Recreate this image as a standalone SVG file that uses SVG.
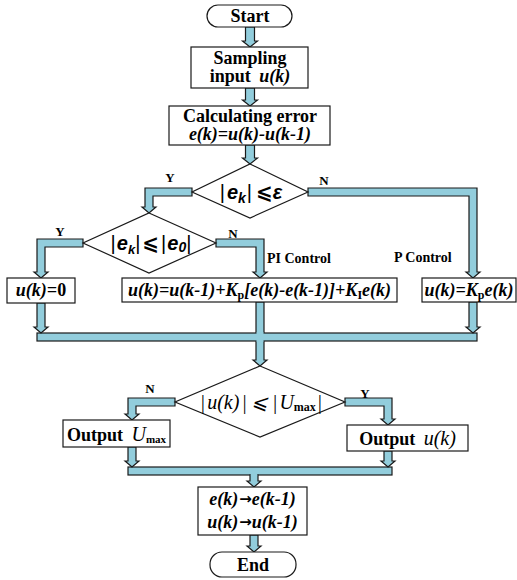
<svg xmlns="http://www.w3.org/2000/svg" width="517" height="580" viewBox="0 0 517 580">
<style>
.box{fill:#fff;stroke:#1a1a1a;stroke-width:1.2}
.pipe{fill:#92CDDC;stroke:#1a1a1a;stroke-width:1.2;stroke-linejoin:miter}
.patch{fill:#92CDDC;stroke:none}
.t{font-family:"Liberation Serif","Times New Roman",serif;font-weight:bold;font-size:18px;fill:#000}
.bi{font-family:"Liberation Serif","Times New Roman",serif;font-weight:bold;font-style:italic;font-size:18px;fill:#000}
.lbl{font-family:"Liberation Serif","Times New Roman",serif;font-weight:bold;font-size:13px;fill:#000}
.ctl{font-family:"Liberation Serif","Times New Roman",serif;font-weight:bold;font-size:14px;fill:#000}
.sans{font-family:"Liberation Sans","DejaVu Sans",sans-serif;font-weight:bold;font-style:italic;font-size:20px;fill:#000}
.ser{font-family:"Liberation Serif","DejaVu Serif",serif;font-style:italic;font-size:20px;fill:#000}
.sub{font-style:normal;font-size:12px}
.thin{font-weight:normal;font-style:normal}
</style>
<rect width="517" height="580" fill="#fff"/>

<g id="connectors">
  <polygon class="pipe" points="245.5,27 254.5,27 254.5,41 257.5,41 250,47 242.5,41 245.5,41"/>
  <polygon class="pipe" points="245.5,88 254.5,88 254.5,100 257.5,100 250,106 242.5,100 245.5,100"/>
  <polygon class="pipe" points="245.5,145 254.5,145 254.5,158 257.5,158 250,164 242.5,158 245.5,158"/>
  <polygon class="pipe" points="192,188 145,188 145,207 142,207 149,213 156,207 153,207 153,196 192,196"/>
  <polygon class="pipe" points="308,188 477,188 477,272 480,272 473,278 466,272 469,272 469,196 308,196"/>
  <polygon class="pipe" points="83,239 37,239 37,272 34,272 41,278 48,272 45,272 45,247 83,247"/>
  <polygon class="pipe" points="216,239 264,239 264,272 267,272 260,278 253,272 256,272 256,247 216,247"/>
  <rect class="pipe" x="37" y="333" width="440" height="8"/>
  <polygon class="pipe" points="256,302 264,302 264,360 267,360 260,366 253,360 256,360"/>
  <rect class="patch" x="256.7" y="332" width="6.6" height="10"/>
  <rect class="patch" x="255" y="333.7" width="10" height="6.6"/>
  <polygon class="pipe" points="37,303 45,303 45,327 48,327 41,333 34,327 37,327"/>
  <polygon class="pipe" points="469,302 477,302 477,327 480,327 473,333 466,327 469,327"/>
  <polygon class="pipe" points="175,398 128,398 128,414 125,414 132,420 139,414 136,414 136,406 175,406"/>
  <polygon class="pipe" points="345,398 392,398 392,419 395,419 388,425 381,419 384,419 384,406 345,406"/>
  <rect class="pipe" x="128" y="467" width="264" height="8"/>
  <polygon class="pipe" points="250,475 258,475 258,481 261,481 254,487 247,481 250,481"/>
  <rect class="patch" x="250.7" y="473" width="6.6" height="3"/>
  <polygon class="pipe" points="128,447 136,447 136,461 139,461 132,467 125,461 128,461"/>
  <polygon class="pipe" points="384,451 392,451 392,461 395,461 388,467 381,461 384,461"/>
  <polygon class="pipe" points="250,535 258,535 258,546 261,546 254,552 247,546 250,546"/>
  <text class="lbl" x="170" y="182" text-anchor="middle">Y</text>
  <text class="lbl" x="324" y="185" text-anchor="middle">N</text>
  <text class="lbl" x="60" y="236" text-anchor="middle">Y</text>
  <text class="lbl" x="233" y="238" text-anchor="middle">N</text>
  <text class="lbl" x="150" y="393" text-anchor="middle">N</text>
  <text class="lbl" x="365" y="398" text-anchor="middle">Y</text>
  <text class="ctl" x="267" y="263">PI Control</text>
  <text class="ctl" x="394" y="262">P Control</text>
</g>

<g id="start">
  <rect class="box" x="207" y="5" width="85" height="22" rx="11"/>
  <text class="t" x="250" y="22" text-anchor="middle">Start</text>
</g>
<g id="sampling">
  <rect class="box" x="191" y="47" width="117" height="41"/>
  <text class="t" x="250" y="64" text-anchor="middle">Sampling</text>
  <text class="t" x="250" y="82" text-anchor="middle">input <tspan font-style="italic" dx="4">u(k)</tspan></text>
</g>
<g id="calc">
  <rect class="box" x="169" y="106" width="161" height="39"/>
  <text class="t" x="250" y="122" text-anchor="middle">Calculating error</text>
  <text class="bi" x="250" y="140" text-anchor="middle">e(k)=u(k)-u(k-1)</text>
</g>
<g id="decision1">
  <polygon class="box" points="250,164 308,192 250,218 192,192"/>
  <text class="sans" x="251" y="199" text-anchor="middle"><tspan class="thin">|</tspan><tspan dx="2">e</tspan><tspan font-size="14" dy="4">k</tspan><tspan dy="-4" class="thin" dx="1">|</tspan><tspan dx="4">⩽ε</tspan></text>
</g>
<g id="decision2">
  <polygon class="box" points="149,213 216,243 149,273 83,243"/>
  <text class="sans" x="151" y="250" text-anchor="middle" font-size="19"><tspan class="thin">|</tspan><tspan dx="1">e</tspan><tspan font-size="13" dy="4">k</tspan><tspan dy="-4" class="thin">|</tspan><tspan dx="2">⩽</tspan><tspan class="thin" dx="2">|</tspan><tspan dx="1">e</tspan><tspan font-size="14" dy="2">0</tspan><tspan class="thin" dy="-2">|</tspan></text>
</g>
<g id="zero">
  <rect class="box" x="7" y="278" width="68" height="25"/>
  <text class="bi" x="41" y="296" text-anchor="middle">u(k)=<tspan font-style="normal">0</tspan></text>
</g>
<g id="pi">
  <rect class="box" x="122" y="278" width="275" height="24"/>
  <text class="bi" x="259.5" y="296" text-anchor="middle">u(k)=u(k-1)+K<tspan class="sub" dy="3">p</tspan><tspan dy="-3">[e(k)-e(k-1)]+K</tspan><tspan class="sub" dy="3">I</tspan><tspan dy="-3">e(k)</tspan></text>
</g>
<g id="p">
  <rect class="box" x="422" y="278" width="94" height="24"/>
  <text class="bi" x="469" y="296" text-anchor="middle">u(k)=K<tspan class="sub" dy="3">p</tspan><tspan dy="-3">e(k)</tspan></text>
</g>
<g id="decision3">
  <polygon class="box" points="260,366 345,402 260,437 175,402"/>
  <text class="ser" x="261" y="409" text-anchor="middle">|<tspan dx="2">u(k)</tspan><tspan dx="2">|</tspan><tspan dx="4">⩽</tspan><tspan dx="4">|</tspan><tspan dx="2">U</tspan><tspan font-size="12" font-weight="bold" font-style="normal" dy="2">max</tspan><tspan dy="-2" dx="1">|</tspan></text>
</g>
<g id="outmax">
  <rect class="box" x="63" y="420" width="107" height="27"/>
  <text class="t" x="116.5" y="441" text-anchor="middle" font-size="17">Output <tspan class="ser" font-weight="normal" dx="4">U</tspan><tspan font-size="11" dy="2">max</tspan></text>
</g>
<g id="outu">
  <rect class="box" x="347" y="425" width="121" height="26"/>
  <text class="t" x="407.5" y="445" text-anchor="middle" font-size="17">Output <tspan class="ser" font-weight="normal" dx="4">u(k)</tspan></text>
</g>
<g id="update">
  <rect class="box" x="198" y="487" width="109" height="48"/>
  <text class="bi" x="252.5" y="505" text-anchor="middle">e(k)<tspan font-family="DejaVu Sans" font-style="normal" font-size="15" dy="-1" dx="1">→</tspan><tspan dy="1">e(k-1)</tspan></text>
  <text class="bi" x="252.5" y="528" text-anchor="middle">u(k)<tspan font-family="DejaVu Sans" font-style="normal" font-size="15" dy="-1" dx="1">→</tspan><tspan dy="1">u(k-1)</tspan></text>
</g>
<g id="end">
  <rect class="box" x="210" y="552" width="86" height="25" rx="12"/>
  <text class="t" x="253" y="571" text-anchor="middle">End</text>
</g>
</svg>
